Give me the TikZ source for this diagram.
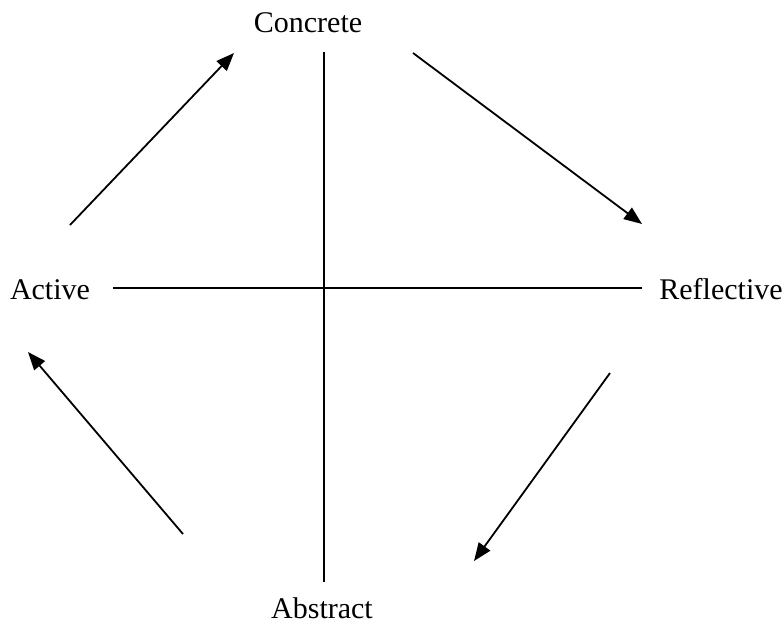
\documentclass[tikz,border=0pt]{standalone}
\usepackage{fontspec}
\setmainfont{Liberation Serif}
\usetikzlibrary{arrows.meta}
\begin{document}
\begin{tikzpicture}[x=1pt,y=-1pt,
  lbl/.style={anchor=base,inner sep=0pt,font=\fontsize{30}{36}\selectfont},
  axis/.style={line width=2pt},
  cyc/.style={line width=1.8pt,-{Triangle[length=18pt,width=14pt]}}]
\useasboundingbox (0,0) rectangle (783,627);
\node[lbl] (concrete) at (308,32) {Concrete};
\node[lbl] (active) at (50,299) {Active};
\node[lbl] (reflective) at (721,299) {Reflective};
\node[lbl] (abstract) at (322,618) {Abstract};
\coordinate (vt) at (323.5,52);
\coordinate (vb) at (323.5,582);
\coordinate (hl) at (113,288);
\coordinate (hr) at (642,288);
\draw[axis] (vt) -- (vb);
\draw[axis] (hl) -- (hr);
\coordinate (a1s) at (70,225);
\coordinate (a1e) at (234,53);
\coordinate (a2s) at (413,53);
\coordinate (a2e) at (642,224);
\coordinate (a3s) at (610,373);
\coordinate (a3e) at (474,561);
\coordinate (a4s) at (183,534);
\coordinate (a4e) at (28,352);
\draw[cyc] (a1s) -- (a1e);
\draw[cyc] (a2s) -- (a2e);
\draw[cyc] (a3s) -- (a3e);
\draw[cyc] (a4s) -- (a4e);
\end{tikzpicture}
\end{document}
